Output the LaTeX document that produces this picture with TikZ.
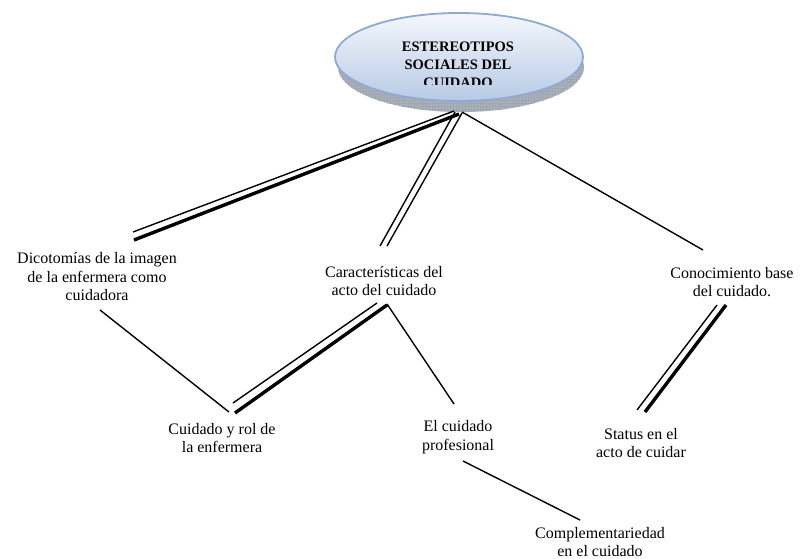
\documentclass[tikz,border=0pt]{standalone}
\usepackage{fontspec}
\setmainfont{Liberation Serif}
\usetikzlibrary{patterns}
\definecolor{rim}{HTML}{8EAAD3}
\definecolor{topc}{HTML}{F4F7FC}
\definecolor{botc}{HTML}{B7CAE5}
\definecolor{shad}{HTML}{A3B2C8}
\tikzset{
  lbl/.style={align=center, inner sep=0pt, font=\fontsize{16}{18.5}\selectfont},
  thin/.style={line width=1.4pt},
  thick/.style={line width=3.4pt},
}
\begin{document}
\begin{tikzpicture}[x=1pt,y=-1pt]
\useasboundingbox (0,0) rectangle (800,559);
% root ellipse with shadow
\fill[shad] (461,67) ellipse [x radius=123, y radius=45];
\fill[pattern=grid, pattern color=black!35] (461,67) ellipse [x radius=123, y radius=45];
\shade[top color=topc, bottom color=botc, draw=rim, line width=1.8pt] (459,57) ellipse [x radius=124, y radius=44];
\begin{scope}
\clip (330,20) rectangle (590,84.5);
\node[align=center, inner sep=0pt, font=\bfseries\fontsize{14.5}{18}\selectfont] (root) at (458,65) {ESTEREOTIPOS\\SOCIALES DEL\\CUIDADO};
\end{scope}
% text nodes
\node[lbl] (dico) at (97,277) {Dicotomías de la imagen\\de la enfermera como\\cuidadora};
\node[lbl] (carac) at (384,281) {Características del\\acto del cuidado};
\node[lbl] (conoc) at (732,282) {Conocimiento base\\del cuidado.};
\node[lbl] (rol) at (222,438) {Cuidado y rol de\\la enfermera};
\node[lbl] (prof) at (458,437) {El cuidado\\profesional};
\node[lbl] (status) at (641,443) {Status en el\\acto de cuidar};
\node[lbl] (comp) at (600,542) {Complementariedad\\en el cuidado};
% connector end points
\coordinate (r-a) at (454,111); \coordinate (d-a) at (133,232);
\coordinate (r-b) at (459,114); \coordinate (d-b) at (134,240);
\coordinate (r-c) at (455,112); \coordinate (c-c) at (380,246);
\coordinate (r-d) at (462,113); \coordinate (c-d) at (387,246);
\coordinate (r-e) at (462,112); \coordinate (k-e) at (703,250);
\coordinate (d-f) at (100,310); \coordinate (l-f) at (229,412);
\coordinate (c-g) at (377,303); \coordinate (l-g) at (233,403);
\coordinate (c-h) at (387,305); \coordinate (l-h) at (235,413);
\coordinate (c-i) at (387,304); \coordinate (p-i) at (454,404);
\coordinate (k-j) at (717,305); \coordinate (s-j) at (637,410);
\coordinate (k-k) at (726,305); \coordinate (s-k) at (645,412);
\coordinate (p-l) at (463,461); \coordinate (m-l) at (580,520);
% connectors
\draw[thin] (r-a) -- (d-a);
\draw[thick] (r-b) -- (d-b);
\draw[thin] (r-c) -- (c-c);
\draw[thin] (r-d) -- (c-d);
\draw[thin] (r-e) -- (k-e);
\draw[thin] (d-f) -- (l-f);
\draw[thin] (c-g) -- (l-g);
\draw[thick] (c-h) -- (l-h);
\draw[thin] (c-i) -- (p-i);
\draw[thin] (k-j) -- (s-j);
\draw[thick] (k-k) -- (s-k);
\draw[thin] (p-l) -- (m-l);
\end{tikzpicture}
\end{document}
